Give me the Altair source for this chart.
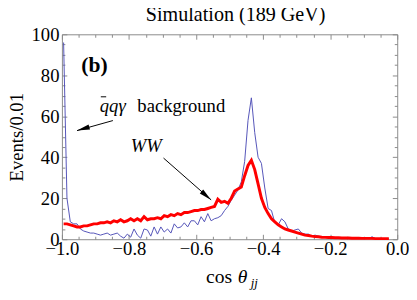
import altair as alt
import pandas as pd

# bin centres (bins of width 0.01)
cos_bins = [-0.995, -0.985, -0.975, -0.965, -0.955, -0.945, -0.935, -0.925, -0.915, -0.905,
            -0.895, -0.885, -0.875, -0.865, -0.855, -0.845, -0.835, -0.825, -0.815, -0.805,
            -0.795, -0.785, -0.775, -0.765, -0.755, -0.745, -0.735, -0.725, -0.715, -0.705,
            -0.695, -0.685, -0.675, -0.665, -0.655, -0.645, -0.635, -0.625, -0.615, -0.605,
            -0.595, -0.585, -0.575, -0.565, -0.555, -0.545, -0.535, -0.525, -0.515, -0.505,
            -0.495, -0.485, -0.475, -0.465, -0.455, -0.445, -0.435, -0.425, -0.415, -0.405,
            -0.395, -0.385, -0.375, -0.365, -0.355, -0.345, -0.335, -0.325, -0.315, -0.305,
            -0.295, -0.285, -0.275, -0.265, -0.255, -0.245, -0.235, -0.225, -0.215, -0.205,
            -0.195, -0.185, -0.175, -0.165, -0.155, -0.145, -0.135, -0.125, -0.115, -0.105,
            -0.095, -0.085, -0.075, -0.065, -0.055, -0.045, -0.035, -0.025]

ww_events = [7.5, 7.5, 7.0, 6.5, 6.0, 6.0, 6.5, 6.5, 7.0, 7.5,
             7.5, 8.0, 8.0, 8.5, 8.0, 9.0, 8.5, 9.5, 8.5, 9.0,
             10.0, 9.0, 10.0, 9.0, 11.0, 9.5, 10.0, 10.0, 10.5, 10.0,
             11.5, 11.0, 12.0, 11.5, 12.5, 12.0, 13.0, 13.0, 13.5, 14.0,
             14.0, 14.5, 14.5, 15.0, 15.5, 16.0, 19.5, 18.0, 18.5, 17.5,
             20.0, 23.5, 24.5, 25.5, 31.0, 36.0, 38.5, 34.0, 27.0, 20.0,
             15.5, 12.5, 10.0, 8.5, 7.0, 6.0, 5.0, 4.5, 4.0, 3.5,
             3.0, 2.5, 2.0, 1.8, 1.5, 1.3, 1.2, 1.0, 0.9, 0.8,
             0.8, 0.7, 0.7, 0.6, 0.6, 0.6, 0.5, 0.5, 0.5, 0.4,
             0.4, 0.4, 0.4, 0.3, 0.3, 0.3, 0.3, 0.3]

bkg_events = [96, 20, 8.5, 7.5, 7.5, 5, 4, 3.5, 3, 3,
              2.5, 2, 2.5, 3, 2, 2.5, 3, 1.5, 0.5, 2.5,
              1, 5, 2, 0.5, 5, 4.5, 1.5, 6, 2.5, 6,
              3.5, 5, 3, 7.5, 5.5, 6, 8, 6, 9, 9,
              7, 11, 8.5, 12.5, 9, 10, 10.5, 11.5, 14, 16,
              19, 21.5, 24, 28, 38, 58, 69, 52, 40, 37,
              25, 15, 14, 8, 7, 10, 8.5, 5, 4, 4.5,
              5, 3, 2.5, 2.5, 1.5, 2, 1.5, 1.2, 1, 1.2,
              0.8, 0.8, 0.6, 0.5, 0.6, 0.5, 0.4, 0.5, 0.4, 0.3,
              0.3, 0.4, 1.2, 0.3, 0.3, 0.3, 0.2, 0.2]

x_major = [-1.0, -0.8, -0.6, -0.4, -0.2, 0.0]
x_minor = [-0.95, -0.9, -0.85, -0.75, -0.7, -0.65, -0.55, -0.5, -0.45,
           -0.35, -0.3, -0.25, -0.15, -0.1, -0.05]
y_major = [0, 20, 40, 60, 80, 100]
y_minor = [5, 10, 15, 25, 30, 35, 45, 50, 55, 65, 70, 75, 85, 90, 95]

df = pd.DataFrame({"c": cos_bins, "ww": ww_events, "bkg": bkg_events})

FONT = "Liberation Serif"
FRAME = "#8a8a8a"
XS = alt.Scale(domain=[-1, 0], nice=False, zero=False)
YS = alt.Scale(domain=[0, 100], nice=False, zero=False)


def tick_axis(orient, values, size):
    return alt.Axis(orient=orient, values=values, ticks=True, tickSize=size, offset=-size,
                    tickColor=FRAME, tickWidth=1, labels=False, domain=False,
                    grid=False, title=None)


base = alt.Chart(df)

bkg_line = base.mark_line(color="#5353b8", strokeWidth=1).encode(
    x=alt.X("c:Q", scale=XS,
            axis=alt.Axis(orient="bottom", values=x_major, format=".1f", ticks=False,
                          domain=False, grid=False, title=None, labelFont=FONT,
                          labelFontSize=19, labelColor="black", labelPadding=1,
                          labelFlush=False, labelOverlap=False)),
    y=alt.Y("bkg:Q", scale=YS,
            axis=alt.Axis(orient="left", values=y_major, format="d", ticks=False,
                          domain=False, grid=False, title="Events/0.01",
                          titleFont=FONT, titleFontSize=19, titleFontWeight="normal",
                          titleColor="black", titlePadding=5, labelFont=FONT,
                          labelFontSize=19, labelColor="black", labelPadding=3,
                          labelOverlap=False)),
)

ww_line = base.mark_line(color="#ff0000", strokeWidth=3).encode(
    x=alt.X("c:Q", scale=XS, axis=tick_axis("bottom", x_major, 5)),
    y=alt.Y("ww:Q", scale=YS, axis=tick_axis("left", y_major, 5)),
)

ghost1 = base.mark_line(strokeOpacity=0).encode(
    x=alt.X("c:Q", scale=XS, axis=tick_axis("bottom", x_minor, 3)),
    y=alt.Y("ww:Q", scale=YS, axis=tick_axis("left", y_minor, 3)),
)
ghost2 = base.mark_line(strokeOpacity=0).encode(
    x=alt.X("c:Q", scale=XS, axis=tick_axis("top", x_major, 5)),
    y=alt.Y("ww:Q", scale=YS, axis=tick_axis("right", y_major, 5)),
)
ghost3 = base.mark_line(strokeOpacity=0).encode(
    x=alt.X("c:Q", scale=XS, axis=tick_axis("top", x_minor, 3)),
    y=alt.Y("ww:Q", scale=YS, axis=tick_axis("right", y_minor, 3)),
)

# annotations (data coordinates)
NOAX_X = alt.X("x:Q", scale=XS, axis=None)
NOAX_Y = alt.Y("y:Q", scale=YS, axis=None)


def label(x, y, t, **kw):
    style = dict(font=FONT, fontSize=19, align="left", baseline="alphabetic", color="black")
    style.update(kw)
    return alt.Chart(pd.DataFrame({"x": [x], "y": [y], "t": [t]})).mark_text(
        **style).encode(x=NOAX_X, y=NOAX_Y, text="t:N")


title_txt = label(-0.482, 106.7, "Simulation (189 GeV)", fontSize=20.5, align="center")
lab_b = label(-0.942, 81.8, "(b)", fontSize=22, fontWeight="bold")
lab_qqg = label(-0.887, 61.9, "qqγ", fontStyle="italic")
lab_bg = label(-0.775, 61.9, "background")
lab_ww = label(-0.795, 42.6, "WW", fontStyle="italic")
xt_cos = label(-0.570, -21.5, "cos", fontSize=20)
xt_theta = label(-0.476, -21.5, "θ", fontSize=20, fontStyle="italic")
xt_sub = label(-0.437, -23.3, "jj", fontSize=13, fontStyle="italic")

qbar = alt.Chart(pd.DataFrame({"x": [-0.884], "x2": [-0.868], "y": [69.5]})).mark_rule(
    color="black", strokeWidth=1).encode(x=NOAX_X, x2="x2:Q", y=NOAX_Y)

arrows = pd.DataFrame({
    "x": [-0.848, -0.697], "y": [57.9, 39.6],
    "x2": [-0.955, -0.555], "y2": [53.0, 19.2],
    "ang": [253.7, 131.0],
})
arrow_lines = alt.Chart(arrows).mark_rule(color="black", strokeWidth=1).encode(
    x=NOAX_X, y=NOAX_Y, x2="x2:Q", y2="y2:Q")
arrow_heads = alt.Chart(arrows).mark_point(
    shape="M0,0L-0.4,2L0.4,2Z", filled=True, color="black", size=170, opacity=1,
    strokeWidth=0).encode(
    x=alt.X("x2:Q", scale=XS, axis=None), y=alt.Y("y2:Q", scale=YS, axis=None),
    angle=alt.Angle("ang:Q", scale=None))

chart = alt.layer(
    bkg_line, ww_line, ghost1, ghost2, ghost3,
    title_txt, lab_b, lab_qqg, lab_bg, qbar, lab_ww, arrow_lines, arrow_heads,
    xt_cos, xt_theta, xt_sub,
).resolve_axis(x="independent", y="independent").properties(
    width=342, height=209,
    autosize=alt.AutoSizeParams(type="none"),
    padding={"left": 55, "top": 24, "right": 12, "bottom": 51},
).configure_view(stroke=FRAME, strokeWidth=1)

chart.save("out.html", embed_options={"renderer": "svg", "actions": False})
